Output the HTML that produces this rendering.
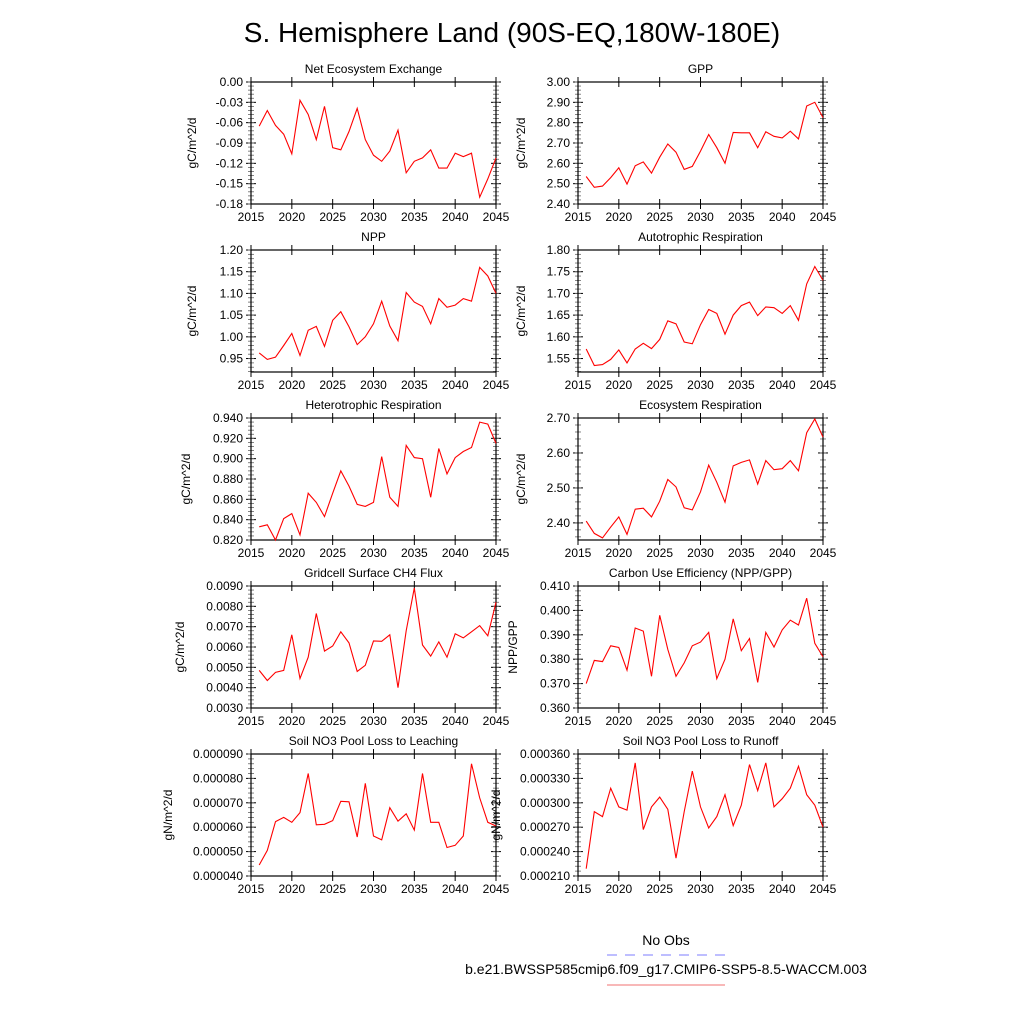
<!DOCTYPE html>
<html><head><meta charset="utf-8"><style>
html,body{margin:0;padding:0;background:#fff;}
svg{display:block;font-family:"Liberation Sans",sans-serif;}
</style></head><body>
<svg id="c" width="1024" height="1024" viewBox="0 0 1024 1024">
<text x="512" y="42" font-size="28" text-anchor="middle">S. Hemisphere Land (90S-EQ,180W-180E)</text>
<text x="666" y="945" font-size="14" text-anchor="middle">No Obs</text>
<line x1="607" y1="955" x2="725" y2="955" stroke="#7d7dff" stroke-width="1" stroke-dasharray="10,8"/>
<text x="666" y="974" font-size="14" text-anchor="middle">b.e21.BWSSP585cmip6.f09_g17.CMIP6-SSP5-8.5-WACCM.003</text>
<line x1="607" y1="985" x2="725" y2="985" stroke="#f07070" stroke-width="1"/>
</svg>
<script>
const years = [2016,2017,2018,2019,2020,2021,2022,2023,2024,2025,2026,2027,2028,2029,2030,2031,2032,2033,2034,2035,2036,2037,2038,2039,2040,2041,2042,2043,2044,2045];
const xTicks = [2015,2020,2025,2030,2035,2040,2045];
const neeValues = [-0.065,-0.042,-0.064,-0.077,-0.106,-0.027,-0.048,-0.085,-0.036,-0.097,-0.100,-0.073,-0.039,-0.085,-0.108,-0.117,-0.102,-0.071,-0.134,-0.117,-0.112,-0.100,-0.127,-0.127,-0.105,-0.110,-0.105,-0.170,-0.143,-0.112];
const gppValues = [2.535,2.482,2.488,2.53,2.578,2.498,2.588,2.607,2.552,2.63,2.695,2.655,2.57,2.585,2.66,2.742,2.677,2.60,2.752,2.75,2.75,2.677,2.755,2.733,2.725,2.758,2.72,2.882,2.90,2.825];
const nppValues = [0.963,0.948,0.953,0.98,1.008,0.957,1.015,1.024,0.978,1.038,1.058,1.023,0.982,1.0,1.03,1.082,1.025,0.991,1.102,1.08,1.07,1.03,1.088,1.068,1.073,1.088,1.082,1.16,1.14,1.10];
const arValues = [1.572,1.534,1.536,1.548,1.570,1.540,1.572,1.585,1.573,1.594,1.637,1.630,1.588,1.584,1.628,1.663,1.654,1.606,1.650,1.672,1.680,1.649,1.669,1.667,1.654,1.672,1.638,1.722,1.762,1.730];
const hrValues = [0.833,0.835,0.820,0.841,0.846,0.825,0.866,0.857,0.843,0.866,0.888,0.873,0.855,0.853,0.857,0.902,0.862,0.853,0.913,0.901,0.900,0.862,0.910,0.885,0.901,0.907,0.911,0.936,0.934,0.915];
const erValues = [2.405,2.37,2.357,2.388,2.417,2.367,2.439,2.442,2.417,2.462,2.524,2.503,2.443,2.437,2.489,2.565,2.516,2.459,2.563,2.573,2.580,2.511,2.578,2.552,2.555,2.578,2.549,2.658,2.697,2.645];
const ch4Values = [0.00485,0.00435,0.00475,0.00485,0.0066,0.00445,0.0055,0.00765,0.0058,0.00605,0.00675,0.0062,0.0048,0.0051,0.0063,0.00628,0.0066,0.0040,0.0068,0.0089,0.0061,0.00555,0.00625,0.0055,0.00665,0.00645,0.00675,0.00705,0.00655,0.0082];
const cueValues = [0.370,0.3795,0.379,0.3855,0.3848,0.3755,0.3928,0.3915,0.373,0.398,0.384,0.373,0.3785,0.3855,0.387,0.391,0.372,0.380,0.3965,0.3835,0.3885,0.3705,0.391,0.385,0.392,0.396,0.394,0.405,0.3865,0.381];
const leachValues = [44.5e-6,50.5e-6,62.3e-6,64e-6,62e-6,66e-6,82e-6,61e-6,61.2e-6,62.7e-6,70.6e-6,70.4e-6,56e-6,78e-6,56.4e-6,54.8e-6,68e-6,62.5e-6,65.5e-6,58.8e-6,82e-6,62e-6,62e-6,51.7e-6,52.6e-6,56.4e-6,86e-6,72e-6,62e-6,60.5e-6];
const runoffValues = [219e-6,289e-6,283e-6,318e-6,295e-6,291e-6,349e-6,267e-6,295e-6,307e-6,292e-6,232e-6,289e-6,339e-6,295e-6,269e-6,283e-6,310e-6,272e-6,297e-6,347e-6,315e-6,349e-6,295e-6,305e-6,318e-6,345e-6,310e-6,297e-6,270e-6];

const panels = [
 {id:'nee',title:'Net Ecosystem Exchange',yt:'gC/m^2/d',v:neeValues,min:-0.18,max:0,step:0.03,dec:2,col:0,row:0,tx:196},
 {id:'gpp',title:'GPP',yt:'gC/m^2/d',v:gppValues,min:2.40,max:3.00,step:0.1,dec:2,col:1,row:0,tx:525},
 {id:'npp',title:'NPP',yt:'gC/m^2/d',v:nppValues,min:0.919,max:1.20,step:0.05,dec:2,col:0,row:1,tx:196,t0:0.95},
 {id:'ar',title:'Autotrophic Respiration',yt:'gC/m^2/d',v:arValues,min:1.519,max:1.80,step:0.05,dec:2,col:1,row:1,tx:525,t0:1.55},
 {id:'hr',title:'Heterotrophic Respiration',yt:'gC/m^2/d',v:hrValues,min:0.82,max:0.94,step:0.02,dec:3,col:0,row:2,tx:190},
 {id:'er',title:'Ecosystem Respiration',yt:'gC/m^2/d',v:erValues,min:2.351,max:2.70,step:0.1,dec:2,col:1,row:2,tx:525,t0:2.40},
 {id:'ch4',title:'Gridcell Surface CH4 Flux',yt:'gC/m^2/d',v:ch4Values,min:0.003,max:0.009,step:0.001,dec:4,col:0,row:3,tx:184},
 {id:'cue',title:'Carbon Use Efficiency (NPP/GPP)',yt:'NPP/GPP',v:cueValues,min:0.36,max:0.41,step:0.01,dec:3,col:1,row:3,tx:517},
 {id:'leach',title:'Soil NO3 Pool Loss to Leaching',yt:'gN/m^2/d',v:leachValues,min:0.00004,max:0.00009,step:0.00001,dec:6,col:0,row:4,tx:172},
 {id:'runoff',title:'Soil NO3 Pool Loss to Runoff',yt:'gN/m^2/d',v:runoffValues,min:0.00021,max:0.00036,step:0.00003,dec:6,col:1,row:4,tx:500}
];
const NS='http://www.w3.org/2000/svg';
const svg=document.getElementById('c');
function mk(tag,attrs,parent){const e=document.createElementNS(NS,tag);for(const k in attrs)e.setAttribute(k,attrs[k]);(parent||svg).appendChild(e);return e;}
const W=245,H=122;
panels.forEach(p=>{
  const L=p.col?578:251, T=82+p.row*168;
  const g=mk('g',{});
  
  
  const xs=yr=>L+(yr-2015)/30*W;
  const ys=v=>T+H-(v-p.min)/(p.max-p.min)*H;
  const ttl=mk('text',{x:L+W/2,y:T-9,'font-size':12,'text-anchor':'middle'},g);ttl.textContent=p.title;
  
  
  const yt=mk('text',{x:p.tx,y:T+H/2,'font-size':12,'text-anchor':'middle',transform:'rotate(-90 '+p.tx+' '+(T+H/2)+')'},g);yt.textContent=p.yt;
  
  
  const t0=p.t0!==undefined?p.t0:p.min;
  const nT=Math.round((p.max-t0)/p.step);
  for(let i=0;i<=nT;i++){
    const v=t0+i*p.step,y=ys(v);
    mk('line',{x1:L-5,y1:y,x2:L+5,y2:y,stroke:'#000'},g);
    mk('line',{x1:L+W-5,y1:y,x2:L+W+5,y2:y,stroke:'#000'},g);
    const lb=mk('text',{x:L-8,y:y+4,'font-size':12,'text-anchor':'end'},g);lb.textContent=v.toFixed(p.dec);
    
    
  }
  for(let v=t0-p.step;v<p.max+1e-12;v+=p.step/5){
    if(v<p.min-1e-12)continue;const y=ys(v);
    mk('line',{x1:L-3,y1:y,x2:L+3,y2:y,stroke:'#666','stroke-width':0.8},g);
    mk('line',{x1:L+W-3,y1:y,x2:L+W+3,y2:y,stroke:'#666','stroke-width':0.8},g);
  }
  xTicks.forEach(t=>{
    const x=xs(t);
    mk('line',{x1:x,y1:T+H-5,x2:x,y2:T+H+5,stroke:'#000'},g);
    mk('line',{x1:x,y1:T-5,x2:x,y2:T+5,stroke:'#000'},g);
    const lb=mk('text',{x:x,y:T+H+17,'font-size':12,'text-anchor':'middle'},g);lb.textContent=t;
    
    
  });
  const fr=mk('rect',{x:L,y:T,width:W,height:H,fill:'none',stroke:'#000','stroke-width':1.2},g);
  
  
  const pts=years.map((yr,i)=>xs(yr).toFixed(1)+','+ys(p.v[i]).toFixed(1)).join(' ');
  const ln=mk('polyline',{points:pts,fill:'none',stroke:'#ff0000','stroke-width':1.1},g);
  
  
});
</script>
</body></html>
